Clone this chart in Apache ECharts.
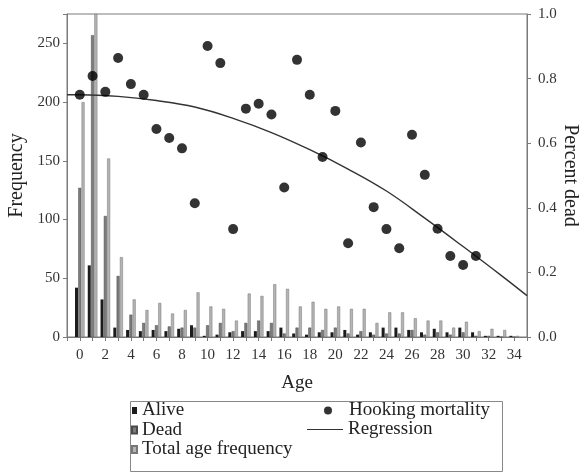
<!DOCTYPE html>
<html>
<head>
<meta charset="utf-8">
<script src="https://cdn.jsdelivr.net/npm/echarts@6/dist/echarts.min.js"></script>
<style>
html,body{margin:0;padding:0;background:#fff;}
#chart{width:583px;height:476px;}
</style>
</head>
<body>
<div id="chart"></div>
<script>
// ---- data ----
const ages = [0,1,2,3,4,5,6,7,8,9,10,11,12,13,14,15,16,17,18,19,20,21,22,23,24,25,26,27,28,29,30,31,32,33,34];
const alive = [42,61,32,8,6,5,6,5,7,10,1,2,4,5,5,5,8,3,2,4,4,6,2,4,8,8,6,4,7,4,8,4,1,1,1];
const dead  = [127,257,103,52,19,12,10,9,8,8,10,12,5,12,14,12,3,8,8,6,8,3,5,2,3,3,6,2,4,2,4,1,1,0,0];
const total = [200,300,152,68,32,23,29,20,23,38,26,24,14,37,35,45,41,26,30,24,26,24,24,12,21,21,16,14,14,8,13,5,7,6,1];
const mortAges = [0,1,2,3,4,5,6,7,8,9,10,11,12,13,14,15,16,17,18,19,20,21,22,23,24,25,26,27,28,29,30,31];
const mortality = [0.750,0.808,0.759,0.864,0.783,0.750,0.644,0.616,0.584,0.414,0.901,0.848,0.334,0.707,0.722,0.689,0.463,0.858,0.750,0.557,0.700,0.290,0.602,0.402,0.334,0.275,0.626,0.502,0.335,0.251,0.223,0.251];
const regAges = [-1,0,3,6,9,12,15,18,21,24,27,30,33,35];
const regValues = [0.750,0.750,0.745,0.732,0.712,0.677,0.633,0.580,0.520,0.452,0.368,0.280,0.190,0.128];
const freqTicks = [0,50,100,150,200,250];
const pctTicks = [0,0.2,0.4,0.6,0.8,1.0];

const pair = (xs, ys) => xs.map((x, i) => [x, ys[i]]);
const FONT = 'Liberation Serif';
const axisCol = '#7a7a7a';

const chart = echarts.init(document.getElementById('chart'), null, {renderer: 'canvas'});
chart.setOption({
  animation: false,
  backgroundColor: '#fff',
  textStyle: {fontFamily: FONT},
  grid: {left: 67, right: 56, top: 14, bottom: 139, show: true, borderColor: axisCol, borderWidth: 1,
         containLabel: false, outerBoundsMode: 'none'},
  xAxis: {
    type: 'value', min: -1, max: 35, interval: 1,
    name: 'Age', nameLocation: 'middle', nameGap: 37,
    nameTextStyle: {fontFamily: FONT, fontSize: 19, color: '#222'},
    axisLine: {onZero: false, lineStyle: {color: axisCol}},
    axisTick: {length: 4, lineStyle: {color: axisCol}},
    splitLine: {show: false},
    axisLabel: {
      fontFamily: FONT, fontSize: 15, color: '#333', margin: 11,
      formatter: v => (v >= 0 && v <= 34 && v % 2 === 0) ? String(v) : ''
    }
  },
  yAxis: [{
    type: 'value', min: 0, max: 275, interval: 50, position: 'left',
    name: 'Frequency', nameLocation: 'middle', nameGap: 40,
    nameTextStyle: {fontFamily: FONT, fontSize: 20, color: '#222'},
    axisLine: {show: true, onZero: false, lineStyle: {color: axisCol}},
    axisTick: {show: true, length: 4, lineStyle: {color: axisCol}},
    splitLine: {show: false},
    axisLabel: {fontFamily: FONT, fontSize: 15, color: '#333', margin: 7,
      formatter: v => freqTicks.indexOf(v) >= 0 ? String(v) : ''}
  }, {
    type: 'value', min: 0, max: 1, interval: 0.2, position: 'right',
    name: 'Percent dead', nameLocation: 'middle', nameGap: 33, nameRotate: -90,
    nameMoveOverlap: false,
    nameTextStyle: {fontFamily: FONT, fontSize: 20, color: '#222'},
    axisLine: {show: true, onZero: false, lineStyle: {color: axisCol}},
    axisTick: {show: true, length: 4, lineStyle: {color: axisCol}},
    splitLine: {show: false},
    axisLabel: {fontFamily: FONT, fontSize: 15, color: '#333', margin: 11,
      formatter: v => pctTicks.some(t => Math.abs(t - v) < 1e-9) ? v.toFixed(1) : ''}
  }],
  legend: [{
    data: ['Alive', 'Dead', 'Total age frequency'],
    orient: 'vertical', left: 131, top: 401, padding: 0, itemGap: 0.5,
    itemWidth: 5, itemHeight: 7, icon: 'rect', selectedMode: false,
    textStyle: {fontFamily: FONT, fontSize: 19, color: '#222', lineHeight: 18}
  }, {
    data: [{name: 'Hooking mortality', icon: 'circle'}],
    orient: 'vertical', left: 324, top: 401, padding: 0,
    itemWidth: 32, itemHeight: 8, selectedMode: false,
    textStyle: {fontFamily: FONT, fontSize: 19, color: '#222', lineHeight: 18}
  }, {
    data: [{name: 'Regression', icon: 'rect'}],
    orient: 'vertical', left: 307, top: 420, padding: 0,
    itemWidth: 36, itemHeight: 1, selectedMode: false,
    textStyle: {fontFamily: FONT, fontSize: 19, color: '#222', lineHeight: 18}
  }],
  graphic: [{
    type: 'rect', left: 128, top: 399, z: -1,
    shape: {width: 372, height: 70},
    style: {fill: 'none', stroke: '#888', lineWidth: 1}
  }],
  series: [{
    name: 'Alive', type: 'bar', data: pair(ages, alive),
    barWidth: 3, barGap: '10%',
    itemStyle: {color: '#1c1c1c'}
  }, {
    name: 'Dead', type: 'bar', data: pair(ages, dead),
    barWidth: 3, barGap: '10%',
    itemStyle: {color: '#7c7c7c', borderColor: '#4a4a4a', borderWidth: 0.5}
  }, {
    name: 'Total age frequency', type: 'bar', data: pair(ages, total),
    barWidth: 3, barGap: '10%',
    itemStyle: {color: '#b4b4b4', borderColor: '#777', borderWidth: 0.5}
  }, {
    name: 'Hooking mortality', type: 'scatter', yAxisIndex: 1,
    data: pair(mortAges, mortality), symbol: 'circle', symbolSize: 10, z: 5,
    itemStyle: {color: '#000'}
  }, {
    name: 'Regression', type: 'line', yAxisIndex: 1,
    data: pair(regAges, regValues), smooth: 0.4, showSymbol: false, z: 4,
    lineStyle: {color: '#333', width: 1.4}, itemStyle: {color: '#333'}
  }]
});
</script>
</body>
</html>
